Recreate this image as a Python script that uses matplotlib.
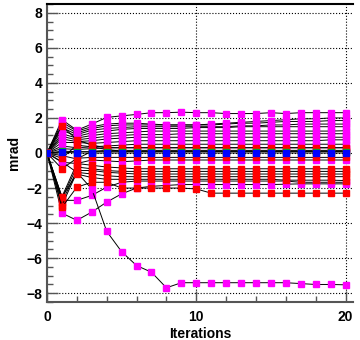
import matplotlib.pyplot as plt
from matplotlib.ticker import MultipleLocator

plt.rcParams['font.family'] = ['Liberation Sans', 'DejaVu Sans']

iterations = list(range(21))

# magenta series (mrad per iteration)
magenta_series = [
    [0, 1.90, 1.30, 1.65, 2.03, 2.12, 2.20, 2.30, 2.30, 2.33, 2.30, 2.30, 2.25, 2.25, 2.25, 2.30, 2.25, 2.30, 2.30, 2.30, 2.30],
    [0, 1.75, 1.25, 1.50, 1.65, 1.70, 1.70, 1.65, 1.60, 1.60, 1.60, 1.65, 1.70, 1.75, 1.80, 1.85, 1.90, 1.95, 1.95, 2.00, 2.00],
    [0, 1.60, 1.15, 1.40, 1.55, 1.60, 1.60, 1.60, 1.60, 1.60, 1.60, 1.60, 1.65, 1.70, 1.70, 1.75, 1.80, 1.80, 1.80, 1.85, 1.85],
    [0, 1.45, 1.05, 1.30, 1.40, 1.45, 1.50, 1.50, 1.50, 1.50, 1.50, 1.50, 1.50, 1.55, 1.55, 1.60, 1.60, 1.65, 1.65, 1.65, 1.65],
    [0, 1.30, 0.95, 1.15, 1.25, 1.35, 1.40, 1.40, 1.40, 1.40, 1.45, 1.45, 1.45, 1.50, 1.50, 1.50, 1.50, 1.50, 1.50, 1.50, 1.50],
    [0, 1.10, 0.85, 1.00, 1.10, 1.15, 1.20, 1.25, 1.25, 1.25, 1.25, 1.25, 1.25, 1.25, 1.25, 1.25, 1.25, 1.25, 1.25, 1.25, 1.27],
    [0, 0.95, 0.75, 0.85, 0.95, 1.00, 1.05, 1.05, 1.05, 1.10, 1.10, 1.10, 1.10, 1.10, 1.10, 1.10, 1.10, 1.10, 1.10, 1.10, 1.10],
    [0, 0.80, 0.65, 0.70, 0.80, 0.85, 0.90, 0.90, 0.90, 0.90, 0.90, 0.90, 0.90, 0.90, 0.90, 0.90, 0.90, 0.90, 0.90, 0.90, 0.90],
    [0, 0.60, 0.60, 0.55, 0.60, 0.65, 0.70, 0.70, 0.70, 0.70, 0.70, 0.70, 0.70, 0.70, 0.70, 0.70, 0.70, 0.70, 0.70, 0.75, 0.75],
    [0, 0.40, 0.30, 0.35, 0.40, 0.45, 0.50, 0.50, 0.50, 0.50, 0.50, 0.50, 0.50, 0.50, 0.50, 0.50, 0.50, 0.50, 0.50, 0.50, 0.50],
    [0, 0.25, 0.20, 0.25, 0.30, 0.30, 0.30, 0.30, 0.30, 0.30, 0.30, 0.30, 0.30, 0.30, 0.30, 0.30, 0.30, 0.30, 0.30, 0.30, 0.30],
    [0, -0.15, -0.34, 0.10, 0.15, 0.15, 0.15, 0.15, 0.15, 0.15, 0.15, 0.15, 0.15, 0.15, 0.15, 0.15, 0.15, 0.15, 0.15, 0.15, 0.15],
    [0, -0.53, -0.60, -0.40, -0.45, -0.50, -0.45, -0.40, -0.40, -0.40, -0.40, -0.40, -0.40, -0.40, -0.40, -0.40, -0.40, -0.40, -0.40, -0.40, -0.40],
    [0, -2.70, -2.70, -2.42, -1.95, -1.67, -1.60, -1.60, -1.60, -1.60, -1.60, -1.60, -1.60, -1.60, -1.60, -1.60, -1.60, -1.67, -1.67, -1.67, -1.67],
    [0, -3.43, -3.84, -3.37, -2.80, -2.33, -2.00, -1.90, -1.85, -1.80, -1.80, -1.80, -1.80, -1.80, -1.80, -1.80, -1.78, -1.76, -1.76, -1.76, -1.76],
    [0, -0.50, -1.10, -2.05, -4.47, -5.63, -6.42, -6.80, -7.69, -7.40, -7.40, -7.40, -7.40, -7.40, -7.40, -7.40, -7.40, -7.45, -7.50, -7.50, -7.52],
]

# red series
red_series = [
    [0, 1.55, 0.75, 0.45, 0.30, 0.30, 0.30, 0.30, 0.30, 0.30, 0.30, 0.30, 0.30, 0.30, 0.30, 0.30, 0.30, 0.30, 0.30, 0.30, 0.30],
    [0, -0.30, 0.45, 0.35, 0.20, 0.10, 0.10, 0.10, 0.10, 0.10, 0.10, 0.10, 0.10, 0.10, 0.10, 0.10, 0.10, 0.10, 0.10, 0.10, 0.10],
    [0, -0.90, -0.30, -0.25, -0.25, -0.25, -0.25, -0.25, -0.25, -0.25, -0.25, -0.25, -0.25, -0.25, -0.25, -0.25, -0.25, -0.25, -0.25, -0.25, -0.25],
    [0, -2.50, -0.60, -0.70, -0.80, -0.85, -0.90, -0.90, -0.90, -0.90, -0.90, -0.90, -0.90, -0.90, -0.90, -0.90, -0.90, -0.90, -0.90, -0.90, -0.90],
    [0, -2.60, -0.80, -0.90, -1.00, -1.05, -1.05, -1.05, -1.05, -1.05, -1.05, -1.05, -1.05, -1.05, -1.05, -1.05, -1.05, -1.05, -1.05, -1.05, -1.05],
    [0, -2.80, -1.00, -1.00, -1.10, -1.15, -1.20, -1.20, -1.20, -1.20, -1.20, -1.20, -1.20, -1.20, -1.20, -1.20, -1.20, -1.20, -1.20, -1.20, -1.20],
    [0, -3.00, -1.10, -1.20, -1.30, -1.35, -1.35, -1.35, -1.35, -1.35, -1.35, -1.35, -1.35, -1.35, -1.35, -1.35, -1.35, -1.35, -1.35, -1.35, -1.35],
    [0, -2.50, -1.20, -1.40, -1.50, -1.50, -1.50, -1.50, -1.50, -1.50, -1.50, -1.50, -1.50, -1.50, -1.50, -1.50, -1.55, -1.55, -1.55, -1.55, -1.57],
    [0, -3.10, -1.95, -1.67, -1.67, -2.00, -2.00, -2.00, -2.00, -2.00, -2.05, -2.29, -2.29, -2.29, -2.29, -2.29, -2.29, -2.29, -2.29, -2.29, -2.29],
]

green_values = [0, 0.10, 0.08, 0.08, 0.08, 0.08, 0.08, 0.08, 0.08, 0.08, 0.08, 0.08, 0.08, 0.08, 0.08, 0.08, 0.08, 0.08, 0.08, 0.08, 0.08]
blue_values = [0, 0.05, 0.00, 0.00, 0.00, 0.00, 0.00, 0.00, 0.00, 0.00, 0.00, 0.00, 0.00, 0.00, 0.00, 0.00, 0.00, 0.00, 0.00, 0.00, 0.00]

fig = plt.figure(figsize=(3.6, 3.4), dpi=100)
ax = fig.add_axes([47 / 360, 38 / 340, 306 / 360, 298 / 340])

def draw(vals, col):
    ax.plot(iterations, vals, '-', color='black', lw=0.7, marker='s', ms=4.3,
            mfc=col, mec=col, zorder=3)

for s in magenta_series:
    draw(s, '#ff00ff')
for s in red_series:
    draw(s, '#ff0000')
draw(green_values, '#00c000')
draw(blue_values, '#0000ff')

ax.set_xlim(0, 20.5)
ax.set_ylim(-8.5, 8.5)
ax.xaxis.set_major_locator(MultipleLocator(10))
ax.xaxis.set_minor_locator(MultipleLocator(2))
ax.yaxis.set_major_locator(MultipleLocator(2))
ax.yaxis.set_minor_locator(MultipleLocator(0.5))
ax.grid(True, which='major', color='black', linestyle=':', lw=0.8, zorder=0)
ax.set_axisbelow(True)

ax.tick_params(which='both', direction='in', top=False, right=False, color='#555555',
               labelsize=10)
ax.tick_params(which='major', length=8, width=1)
ax.tick_params(which='minor', length=4, width=1)
ax.tick_params(axis='x', pad=6)
for lbl in ax.get_xticklabels() + ax.get_yticklabels():
    lbl.set_fontweight('bold')

ax.spines['right'].set_visible(False)
ax.spines['left'].set_color('#555555')
ax.spines['bottom'].set_color('#555555')
ax.spines['left'].set_linewidth(1.5)
ax.spines['bottom'].set_linewidth(1.5)
ax.spines['top'].set_linewidth(1.5)

ax.set_xlabel('Iterations', fontsize=10, fontweight='bold', labelpad=2)
ax.set_ylabel('mrad', fontsize=10, fontweight='bold', labelpad=4)

fig.savefig('out.png', dpi=100)
